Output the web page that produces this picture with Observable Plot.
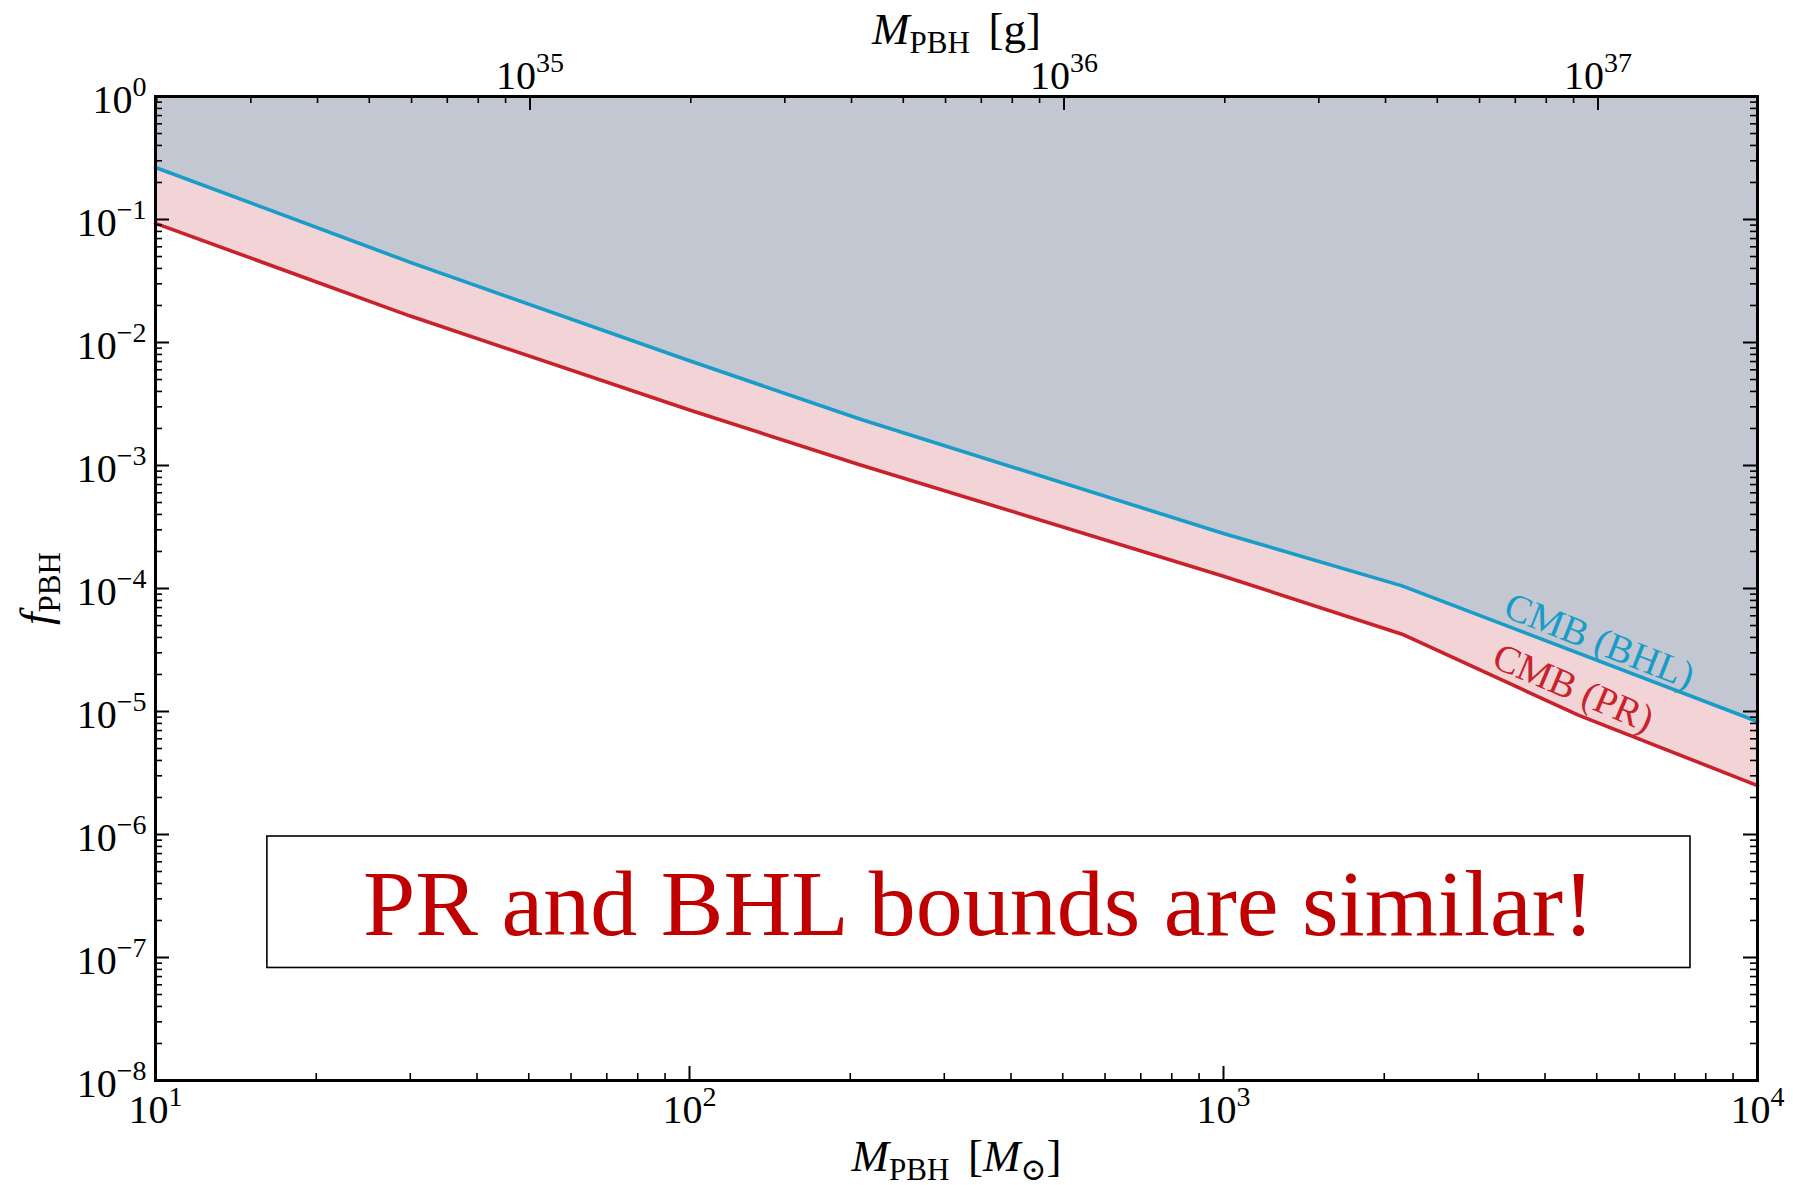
<!DOCTYPE html>
<html>
<head>
<meta charset="utf-8">
<script src="https://cdn.jsdelivr.net/npm/d3@7"></script>
<script src="https://cdn.jsdelivr.net/npm/@observablehq/plot@0.6"></script>
<style>
  html, body { margin: 0; padding: 0; background: #fff; }
  #chart svg { display: block; }
</style>
</head>
<body>
<div id="chart"></div>
<script>
// ---------------- data ----------------
// CMB (BHL) bound: PBH mass [M_sun] vs f_PBH
const massBHL = [10, 30, 100, 209, 1000, 2160, 10000];
const fBHL    = [0.265, 0.0448, 0.0071, 0.00238, 2.8e-4, 1.05e-4, 8.3e-6];
// CMB (PR) bound
const massPR  = [10, 30, 100, 209, 1000, 2160, 4630, 10000];
const fPR     = [0.093, 0.0164, 0.00283, 1.01e-3, 1.26e-4, 4.25e-5, 9.3e-6, 2.5e-6];

// axis tick values
const xMajorTicks = [10, 100, 1000, 10000];
const yMajorTicks = [1e-8, 1e-7, 1e-6, 1e-5, 1e-4, 1e-3, 1e-2, 1e-1, 1];
const gramMajorTicks = [1e35, 1e36, 1e37];
const gramsPerSolarMass = 1.989e33;

// curve labels
const labelBHL = [{m: 5060, f: 3.73e-5, text: "CMB (BHL)"}];
const labelPR  = [{m: 4520, f: 1.55e-5, text: "CMB (PR)"}];

// annotation box
const annoText = ["PR and BHL bounds are similar!"];
const annoBox  = [{x1: 16.2, x2: 7490, y1: 9.63e-7, y2: 8.22e-8, xc: 348, yc: 2.81e-7}];

// ---------------- layout ----------------
const W = 1793, H = 1185;
const mL = 155, mR = 36, mT = 96, mB = 105;
const innerW = W - mL - mR, innerH = H - mT - mB;
const majorLen = 14, minorLen = 7;

const bhl = massBHL.map((m, i) => ({m, f: fBHL[i]}));
const pr  = massPR.map((m, i) => ({m, f: fPR[i]}));

const xDomain = [10, 1e4], yDomain = [1e-8, 1];
function minors(lo, hi) {
  const out = [];
  for (let e = Math.floor(Math.log10(lo)) - 1; e <= Math.ceil(Math.log10(hi)); e++)
    for (let k = 2; k <= 9; k++) {
      const v = k * Math.pow(10, e);
      if (v > lo * 1.001 && v < hi * 0.999) out.push(v);
    }
  return out;
}
const xMinor = minors(...xDomain);
const yMinor = minors(...yDomain);
const gramMajorPos = gramMajorTicks.map(g => g / gramsPerSolarMass);
const gramMinorPos = minors(xDomain[0] * gramsPerSolarMass, xDomain[1] * gramsPerSolarMass).map(g => g / gramsPerSolarMass);

const sup = v => "10^" + String(Math.round(Math.log10(v))).replace("-", "\u2212");

const blue = "#1a9cc8", red = "#c8232c";

const chart = Plot.plot({
  width: W, height: H,
  marginLeft: mL, marginRight: mR, marginTop: mT, marginBottom: mB,
  style: {fontFamily: "'Liberation Serif', 'DejaVu Serif', serif", background: "#fff", color: "#000"},
  x: {type: "log", domain: xDomain, axis: null},
  y: {type: "log", domain: yDomain, axis: null},
  marks: [
    Plot.areaY(pr,  {x: "m", y1: "f", y2: 1, fill: "#f2d4d6"}),
    Plot.areaY(bhl, {x: "m", y1: "f", y2: 1, fill: "#c3c7d2"}),
    Plot.line(pr,  {x: "m", y: "f", stroke: red,  strokeWidth: 3.6}),
    Plot.line(bhl, {x: "m", y: "f", stroke: blue, strokeWidth: 3.6}),
    Plot.text(labelBHL, {x: "m", y: "f", text: "text", rotate: 21.5, fill: blue, fontSize: 39, textAnchor: "middle"}),
    Plot.text(labelPR,  {x: "m", y: "f", text: "text", rotate: 23,   fill: red,  fontSize: 39, textAnchor: "middle"}),
    Plot.rect(annoBox, {x1: "x1", x2: "x2", y1: "y1", y2: "y2", fill: "none", stroke: "#000", strokeWidth: 1.6}),
    Plot.text(annoBox, {x: "xc", y: "yc", text: () => annoText[0], fill: "#c00000", fontSize: 94, textAnchor: "middle", dy: 3}),
    // ticks (inward)
    Plot.tickX(xMajorTicks, {x: d => d, insetTop: innerH - majorLen, stroke: "#000", strokeWidth: 2}),
    Plot.tickX(xMinor,      {x: d => d, insetTop: innerH - minorLen, stroke: "#000", strokeWidth: 1.6}),
    Plot.tickX(gramMajorPos, {x: d => d, insetBottom: innerH - majorLen, stroke: "#000", strokeWidth: 2}),
    Plot.tickX(gramMinorPos, {x: d => d, insetBottom: innerH - minorLen, stroke: "#000", strokeWidth: 1.6}),
    Plot.tickY(yMajorTicks, {y: d => d, insetRight: innerW - majorLen, stroke: "#000", strokeWidth: 2}),
    Plot.tickY(yMinor,      {y: d => d, insetRight: innerW - minorLen, stroke: "#000", strokeWidth: 1.6}),
    Plot.tickY(yMajorTicks, {y: d => d, insetLeft: innerW - majorLen, stroke: "#000", strokeWidth: 2}),
    Plot.tickY(yMinor,      {y: d => d, insetLeft: innerW - minorLen, stroke: "#000", strokeWidth: 1.6}),
    Plot.frame({stroke: "#000", strokeWidth: 3}),
    // tick labels
    Plot.text(xMajorTicks, {x: d => d, frameAnchor: "bottom", dy: 42, text: sup, fontSize: 40, textAnchor: "middle"}),
    Plot.text(gramMajorPos, {x: d => d, frameAnchor: "top", dy: -8, text: (d, i) => sup(gramMajorTicks[i]), fontSize: 40, textAnchor: "middle"}),
    Plot.text(yMajorTicks, {y: d => d, frameAnchor: "left", dx: -9, dy: 16, text: sup, fontSize: 40, textAnchor: "end"}),
    // axis titles
    Plot.text(["#top"],    {frameAnchor: "top",    dy: -53, text: d => d, fontSize: 45, textAnchor: "middle"}),
    Plot.text(["#bottom"], {frameAnchor: "bottom", dy: 90,  text: d => d, fontSize: 45, textAnchor: "middle"}),
    Plot.text(["#left"],   {frameAnchor: "left",   dx: -105, rotate: -90, text: d => d, fontSize: 45, textAnchor: "middle"})
  ]
});

const svg = d3.select(chart);

function resetEm(el) {
  for (const a of ["y", "dy"]) {
    const v = el.getAttribute(a);
    if (v && /em$/.test(v)) el.setAttribute(a, "0");
  }
}

const titles = {
  "#top":    [["M", "i"], ["PBH", "s"], ["\u2006 [g]", ""]],
  "#bottom": [["M", "i"], ["PBH", "s"], ["\u2006 [", ""], ["M", "i"], ["\u2299", "s"], ["]", ""]],
  "#left":   [["f", "i"], ["PBH", "s"]]
};

svg.selectAll("text").each(function () {
  const s = this.textContent;
  const t = d3.select(this);
  if (s.startsWith("10^")) {
    const [b, e] = s.split("^");
    resetEm(this);
    this.textContent = "";
    t.append("tspan").text(b);
    t.append("tspan").attr("font-size", 28).attr("dy", -17).text(e);
  } else if (titles[s]) {
    resetEm(this);
    this.textContent = "";
    let shifted = false;
    for (const [txt, kind] of titles[s]) {
      const ts = t.append("tspan").text(txt);
      if (kind === "i") ts.attr("font-style", "italic");
      if (kind === "s") {
        ts.attr("font-size", 31);
        if (!shifted) { ts.attr("dy", 9); shifted = true; }
      } else if (shifted) {
        ts.attr("dy", -9); shifted = false;
      }
    }
  }
});

document.getElementById("chart").appendChild(chart);
</script>
</body>
</html>
